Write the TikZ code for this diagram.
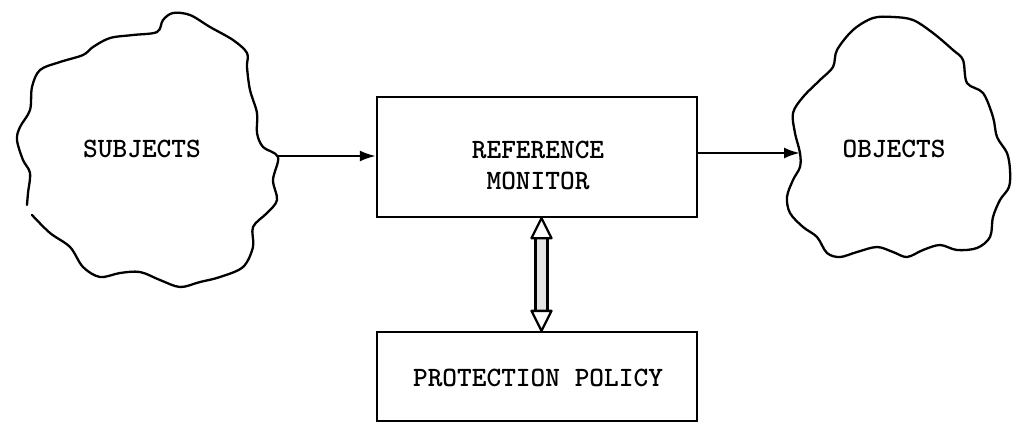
\documentclass[tikz,border=0pt]{standalone}
\usetikzlibrary{arrows.meta,calc}
\begin{document}
\begin{tikzpicture}[x=1pt,y=-1pt,
  ln/.style={line width=2.3pt, line join=round, line cap=round},
  box/.style={draw, line width=2.3pt, rectangle, inner sep=0pt},
  lbl/.style={font=\ttfamily\bfseries\fontsize{28}{31}\selectfont, inner sep=0pt, align=center},
  arr/.style={ln, -{Latex[length=16pt,width=11pt]}},
  dblhead/.style={ln, fill=white},
]
\useasboundingbox (0,0) rectangle (1012,424);
% boxes
\node[box, minimum width=320pt, minimum height=120pt] (rm) at (537,157) {};
\node[lbl] (rmtext) at (538,165) {REFERENCE\\MONITOR};
\node[box, minimum width=320pt, minimum height=89pt] (pp) at (537,376.5) {};
\node[lbl] (pptext) at (538,378) {PROTECTION POLICY};
% subjects cloud (open at the left)
\draw[ln] plot[smooth, tension=0.55] coordinates {
 (32,215) (50,233) (70,247) (83,267) (100,277) (120,273) (140,272) (160,280)
 (180,287) (200,282) (220,277) (243,267) (253,247) (253,227) (267,213) (277,200)
 (273,180) (278,157) (263,147) (257,133) (257,113) (250,90) (247,67) (247,53)
 (233,40) (210,27) (190,15) (173,13) (163,20) (157,32) (133,35) (110,38)
 (93,47) (83,55) (60,62) (40,70) (32,87) (30,110) (20,127) (17,140)
 (23,160) (30,173) (28,193) (27,205)};
\coordinate (subjout) at (278,156);
\node[lbl] (subj) at (142,149) {SUBJECTS};
% objects cloud
\draw[ln] plot[smooth cycle, tension=0.55] coordinates {
 (800,153) (795,133) (793,113) (803,97) (820,80) (833,67) (837,50) (853,30)
 (873,18) (893,17) (913,20) (933,33) (953,50) (963,60) (967,83) (983,93)
 (993,117) (997,137) (1007,153) (1010,170) (1009,187) (1000,200) (993,217)
 (990,237) (977,248) (957,250) (940,245) (923,250) (907,257) (893,252)
 (877,247) (857,252) (840,257) (827,253) (817,237) (803,227) (790,213)
 (787,197) (793,180) (800,167)};
\coordinate (objin) at (800,153);
\node[lbl] (obj) at (894,149) {OBJECTS};
% connectors
\draw[arr] (subjout) -- (subjout -| rm.west);
\draw[arr] (rm.east |- objin) -- (objin);
% double arrow between monitor and policy
\coordinate (dtop) at ($(rm.south)+(4.5,0)$);
\coordinate (dbot) at ($(pp.north)+(4.5,0)$);
\draw[ln, fill=gray!20] ($(dtop)+(-6,20)$) rectangle ($(dbot)+(6,-20)$);
\draw[dblhead] (dtop) -- ($(dtop)+(-10,20)$) -- ($(dtop)+(10,20)$) -- cycle;
\draw[dblhead] (dbot) -- ($(dbot)+(-10,-20)$) -- ($(dbot)+(10,-20)$) -- cycle;
\end{tikzpicture}
\end{document}
